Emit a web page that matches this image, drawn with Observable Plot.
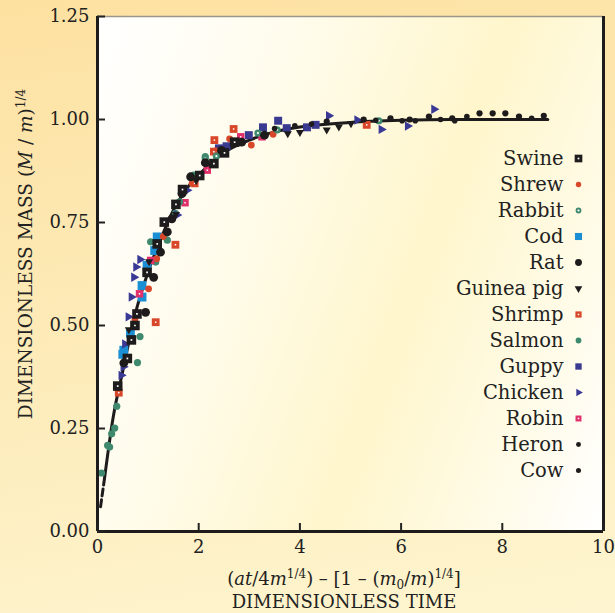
<!DOCTYPE html>
<html><head><meta charset="utf-8">
<script src="https://cdn.jsdelivr.net/npm/d3@7"></script>
<script src="https://cdn.jsdelivr.net/npm/@observablehq/plot@0.6"></script>
<style>
html,body{margin:0;padding:0;}
body{width:615px;height:613px;overflow:hidden;background:linear-gradient(170deg,#fde1a1 0%,#fdeab6 45%,#fef5d0 100%);font-family:"DejaVu Serif",serif;}
#wrap{position:relative;width:615px;height:613px;}
#panel{position:absolute;left:97px;top:16px;width:506px;height:515px;background:linear-gradient(110deg,#ffffff 0%,#fffcec 30%,#fff6cc 60%,#fffbe6 82%,#ffffff 100%);}
#wrap svg{position:absolute;left:0;top:0;}
</style></head><body><div id="wrap"><div id="panel"></div></div>
<script>
// ---- data ----
const species = ["Swine","Shrew","Rabbit","Cod","Rat","Guinea pig","Shrimp","Salmon","Guppy","Chicken","Robin","Heron","Cow"];
const swine = [[0.40,0.353],[0.59,0.42],[0.67,0.465],[0.74,0.50],[0.78,0.528],[0.98,0.629],[1.18,0.698],[1.32,0.751],[1.55,0.794],[1.68,0.83],[2.02,0.864],[2.30,0.893],[2.51,0.919],[2.71,0.945]];
const shrew = [[0.74,0.516],[1.01,0.589],[1.17,0.662],[1.30,0.716],[1.87,0.845],[2.33,0.924],[2.61,0.953],[3.04,0.938],[3.47,0.964]];
const rabbit = [[1.62,0.80],[2.13,0.905],[2.35,0.911],[3.17,0.967],[3.55,0.975],[5.56,0.997]];
const cod = [[0.50,0.43],[0.52,0.44],[0.65,0.481],[0.88,0.569],[0.88,0.597],[0.98,0.646],[1.13,0.682],[1.18,0.715]];
const rat = [[0.52,0.409],[0.95,0.532],[1.11,0.617],[1.245,0.678],[1.38,0.727],[1.47,0.759],[1.67,0.82],[1.84,0.861],[2.13,0.895],[2.45,0.925],[2.85,0.945],[3.3,0.962]];
const guineaPig = [[0.62,0.49],[1.02,0.655],[1.55,0.77],[1.95,0.852],[3.76,0.966],[4.0,0.969],[4.53,0.975],[4.77,0.982],[5.01,0.99]];
const shrimp = [[0.42,0.337],[1.15,0.508],[1.54,0.696],[1.92,0.845],[2.30,0.922],[2.31,0.95],[2.69,0.977],[5.32,0.987]];
const salmon = [[0.08,0.142],[0.20,0.209],[0.24,0.205],[0.28,0.237],[0.34,0.251],[0.38,0.304],[0.79,0.41],[0.84,0.473],[1.05,0.703],[1.15,0.654],[1.38,0.707],[1.54,0.772],[1.90,0.865],[2.13,0.91]];
const guppy = [[2.40,0.93],[2.55,0.935],[2.99,0.962],[3.27,0.981],[3.57,0.997],[3.74,0.979],[4.14,0.981],[4.31,0.987]];
const chicken = [[0.47,0.379],[0.51,0.40],[0.54,0.455],[0.61,0.521],[0.67,0.569],[0.72,0.617],[0.76,0.642],[0.84,0.66],[1.57,0.768],[1.77,0.828],[4.57,1.009],[5.13,0.999],[5.61,0.976],[6.13,0.984],[6.65,1.025]];
const robin = [[0.83,0.577],[1.05,0.658],[1.73,0.798],[2.17,0.877],[2.83,0.958],[3.25,0.958]];
const heron = [[4.53,0.995],[5.26,1.0],[5.79,1.003],[6.17,1.0],[6.55,1.007],[7.01,1.003],[7.55,1.015],[7.81,1.015],[8.06,1.015],[8.33,1.007],[8.82,1.009]];
const cow = [[3.5,0.978],[3.9,0.985],[4.23,0.989],[5.5,0.998],[6.02,0.997],[6.28,0.997],[6.78,1.0],[7.06,0.997],[7.30,1.007],[8.58,1.003]];
// fitted universal curve
const curveX = [0.14,0.3,0.5,0.75,1.0,1.25,1.5,1.75,2.0,2.5,3.0,3.5,4.0,5.0,6.0,7.0,8.9];
const curveY = [0.13,0.27,0.39,0.53,0.63,0.71,0.78,0.83,0.865,0.92,0.95,0.97,0.982,0.993,0.998,1.0,1.0];
const dashX = [0.06,0.14];
const dashY = [0.06,0.13];
const xTicks = [0,2,4,6,8,10];
const yTicks = [0,0.25,0.5,0.75,1.0,1.25];

// ---- build ----
const seriesData = {"Swine":swine,"Shrew":shrew,"Rabbit":rabbit,"Cod":cod,"Rat":rat,"Guinea pig":guineaPig,"Shrimp":shrimp,"Salmon":salmon,"Guppy":guppy,"Chicken":chicken,"Robin":robin,"Heron":heron,"Cow":cow};
const curve = curveX.map((x,i)=>({x, y:curveY[i]}));
const dash = dashX.map((x,i)=>({x, y:dashY[i]}));
const INK = "#1d1b1b";
const styles = {
  "Swine":      {symbol:"square",   fill:INK,       r:5.4, inner:"square", ir:0.95},
  "Shrew":      {symbol:"circle",   fill:"#d9472b", r:3.4},
  "Rabbit":     {symbol:"circle",   fill:"#3f8a6e", r:3.6, inner:"circle", ir:1.1},
  "Cod":        {symbol:"square",   fill:"#1b8fd3", r:5},
  "Rat":        {symbol:"circle",   fill:INK,       r:4.4},
  "Guinea pig": {symbol:"triangle", fill:INK,       r:3.0, rotate:180},
  "Shrimp":     {symbol:"square",   fill:"#d9472b", r:4.4, inner:"square", ir:0.85},
  "Salmon":     {symbol:"circle",   fill:"#3f8a6e", r:3.6},
  "Guppy":      {symbol:"square",   fill:"#3a3a91", r:4.5},
  "Chicken":    {symbol:"triangle", fill:"#3a3a96", r:3.5, rotate:90},
  "Robin":      {symbol:"square",   fill:"#e2306b", r:4.2, inner:"square", ir:0.85},
  "Heron":      {symbol:"circle",   fill:INK,       r:3.1},
  "Cow":        {symbol:"circle",   fill:INK,       r:2.8}
};
const legendScale = {"Swine":0.8,"Shrew":0.8,"Rabbit":0.8,"Cod":0.8,"Rat":0.78,"Guinea pig":0.95,"Shrimp":0.8,"Salmon":0.8,"Guppy":0.8,"Chicken":0.8,"Robin":0.8,"Heron":0.8,"Cow":0.9};

function dotMarks(s, data, k, chan) {
  const st = styles[s];
  const m = [Plot.dot(data, {...chan, symbol:st.symbol, fill:st.fill, r:st.r*k, rotate:st.rotate||0, stroke:"none"})];
  if (st.inner) m.push(Plot.dot(data, {...chan, symbol:st.inner, fill:"white", r:st.ir, stroke:"none"}));
  return m;
}
const xyChan = {x:d=>d[0], y:d=>d[1]};
const drawOrder = ["Salmon","Cod","Chicken","Guppy","Shrew","Shrimp","Robin","Rabbit","Rat","Guinea pig","Heron","Cow","Swine"];

const main = Plot.plot({
  width:615, height:613,
  marginLeft:97, marginRight:12, marginTop:16, marginBottom:82,
  x:{domain:[0,10], label:null},
  y:{domain:[0,1.25], label:null},
  style:{background:"transparent", fontFamily:"DejaVu Serif", fontSize:"18px", color:"#222", overflow:"visible"},
  marks:[
    Plot.line(dash, {x:"x", y:"y", stroke:INK, strokeWidth:3, strokeDasharray:"7,4"}),
    Plot.line(curve, {x:"x", y:"y", stroke:INK, strokeWidth:3, curve:"monotone-x"}),
    ...drawOrder.flatMap(s => dotMarks(s, seriesData[s], 1, xyChan)),
    Plot.ruleY([1.25], {stroke:"#9c968a", strokeWidth:1.5}),
    Plot.ruleX([10], {stroke:INK, strokeWidth:3}),
    Plot.ruleX([0], {stroke:INK, strokeWidth:3}),
    Plot.ruleY([0], {stroke:INK, strokeWidth:3}),
    Plot.axisX({ticks:xTicks, tickSize:-8, tickPadding:17, tickFormat:d=>String(d), strokeWidth:2, fill:"#222", label:null}),
    Plot.axisY({ticks:yTicks, tickSize:-8, tickPadding:16, tickFormat:d3.format(".2f"), strokeWidth:2, fill:"#222", label:null})
  ]
});

const legend = Plot.plot({
  width:615, height:613,
  marginLeft:0, marginTop:0, marginBottom:0, marginRight:37,
  y:{type:"point", domain:species, range:[152,475], padding:0, axis:null},
  style:{background:"transparent", fontFamily:"DejaVu Serif", fontSize:"19.5px", color:"#222"},
  marks:[
    Plot.text(species, {y:d=>d, text:d=>d, frameAnchor:"right", dx:-15, textAnchor:"end", fill:"#222"}),
    ...species.flatMap(s => dotMarks(s, [s], legendScale[s], {y:d=>d, frameAnchor:"right"}))
  ]
});
legend.style.pointerEvents = "none";

// axis titles with super/subscripts
const svg = d3.select(main);
const font = "DejaVu Serif";
const t1 = svg.append("text").attr("x",344).attr("y",585).attr("text-anchor","middle")
  .attr("font-family",font).attr("font-size",18).attr("fill","#222");
function seg(t, txt, opts={}) {
  const ts = t.append("tspan").text(txt);
  if (opts.italic) ts.attr("font-style","italic");
  if (opts.dy) ts.attr("dy", opts.dy);
  if (opts.size) ts.attr("font-size", opts.size);
  return ts;
}
seg(t1,"(");
seg(t1,"at",{italic:true});
seg(t1,"/4");
seg(t1,"m",{italic:true});
seg(t1,"1/4",{dy:-7,size:12});
seg(t1,") – [1 – (",{dy:7});
seg(t1,"m",{italic:true});
seg(t1,"0",{dy:4,size:12});
seg(t1,"/",{dy:-4});
seg(t1,"m",{italic:true});
seg(t1,")");
seg(t1,"1/4",{dy:-7,size:12});
seg(t1,"]",{dy:7});

svg.append("text").attr("x",344).attr("y",608).attr("text-anchor","middle")
  .attr("font-family",font).attr("font-size",18).attr("fill","#222").text("DIMENSIONLESS TIME");

const t2 = svg.append("text").attr("transform","translate(32,254) rotate(-90)").attr("text-anchor","middle")
  .attr("font-family",font).attr("font-size",18.5).attr("fill","#222");
seg(t2,"DIMENSIONLESS MASS (");
seg(t2,"M",{italic:true});
seg(t2," / ");
seg(t2,"m",{italic:true});
seg(t2,")");
seg(t2,"1/4",{dy:-7,size:12});

const wrap = document.getElementById("wrap");
wrap.appendChild(main);
wrap.appendChild(legend);
</script></body></html>
